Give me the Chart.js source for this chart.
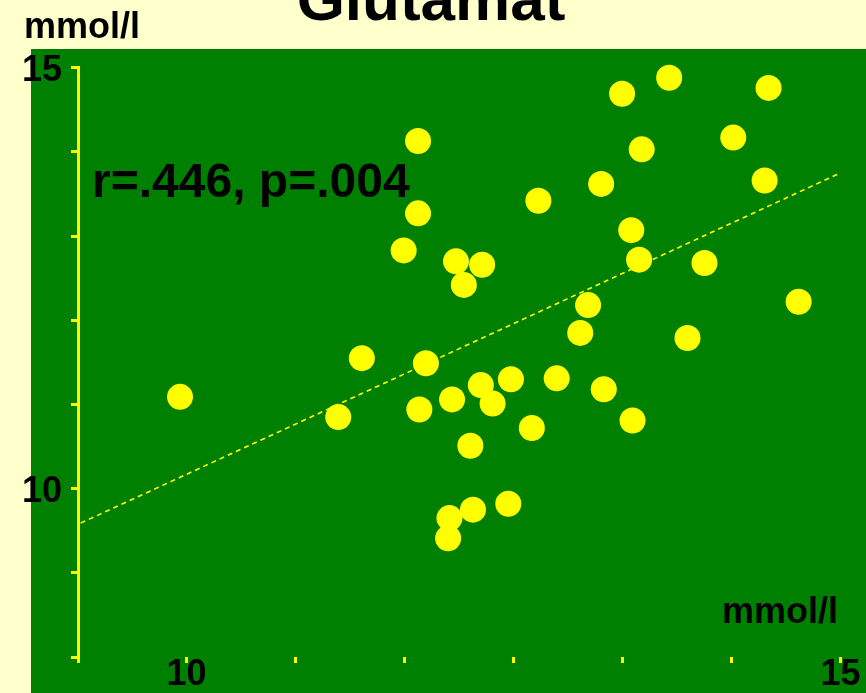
<!DOCTYPE html>
<html>
<head>
<meta charset="utf-8">
<title>Glutamat</title>
<script src="https://cdn.jsdelivr.net/npm/chart.js@4/dist/chart.umd.min.js"></script>
<style>
    html, body { margin: 0; padding: 0; background: #ffffcc; }
    #wrap { width: 866px; height: 693px; }
</style>
</head>
<body>
<div id="wrap"><canvas id="scatterChart" width="866" height="693"></canvas></div>
<script>
// Measured values (mmol/l)
const xValues = [9.95, 11.16, 11.34, 11.66, 11.77, 11.77, 11.83, 11.78, 12.03, 12.06,
                 12.26, 12.12, 12.25, 12.34, 12.17, 12.01, 12.00, 12.19, 12.46, 12.48,
                 12.64, 12.69, 12.83, 13.01, 13.07, 13.17, 13.19, 13.33, 13.40, 13.48,
                 13.46, 13.41, 13.69, 13.83, 13.96, 14.18, 14.42, 14.45, 14.68];
const yValues = [11.09, 10.85, 11.55, 12.83, 14.13, 13.27, 11.49, 10.94, 11.06, 12.70,
                 12.66, 12.42, 11.23, 11.01, 10.51, 9.65, 9.41, 9.75, 9.82, 11.30,
                 10.72, 13.42, 11.31, 11.85, 12.18, 13.62, 11.18, 14.69, 13.07, 14.03,
                 12.72, 10.81, 14.88, 11.79, 12.68, 14.17, 13.66, 14.76, 12.22];

// Regression line end points
const fitX = [9.19, 15.0];
const fitY = [9.59, 13.75];

// Axes
const xTicks = [9.17, 10, 10.83, 11.67, 12.5, 13.33, 14.17, 15];
const xLabels = { 10: '10', 15: '15' };
const yMin = 8, yMax = 15;
const yLabels = { 10: '10', 15: '15' };

const titleText = 'Glutamat';
const unitText = 'mmol/l';
const statsText = 'r=.446, p=.004';

const FONT = "'Liberation Sans', Arial, sans-serif";
const YELLOW = '#ffff00';

const points = xValues.map((x, i) => ({ x: x, y: yValues[i] }));
const fitLine = fitX.map((x, i) => ({ x: x, y: fitY[i] }));

// Page background, green panel and the free text labels
const slidePlugin = {
    id: 'slide',
    beforeDraw(chart) {
        const c = chart.ctx;
        c.save();
        c.fillStyle = '#ffffcc';
        c.fillRect(0, 0, chart.width, chart.height);
        c.fillStyle = '#008000';
        c.fillRect(31, 49, chart.width - 31, chart.height - 49);
        c.restore();
    },
    afterDraw(chart) {
        const c = chart.ctx;
        const area = chart.chartArea;
        c.save();
        c.fillStyle = '#000000';
        c.textBaseline = 'alphabetic';

        c.font = 'bold 62px ' + FONT;
        c.textAlign = 'center';
        c.fillText(titleText, 431, 20);

        c.font = 'bold 36px ' + FONT;
        c.textAlign = 'left';
        c.fillText(unitText, 24, 38);
        c.textAlign = 'right';
        c.fillText(unitText, 838, 623);

        c.font = 'bold 48px ' + FONT;
        c.textAlign = 'left';
        c.fillText(statsText, area.left + 14, 197);
        c.restore();
    }
};

const ctx = document.getElementById('scatterChart').getContext('2d');

new Chart(ctx, {
    type: 'scatter',
    data: {
        datasets: [
            {
                label: 'Glutamat',
                data: points,
                backgroundColor: YELLOW,
                borderWidth: 0,
                pointRadius: 13,
                pointHoverRadius: 13,
                clip: false
            },
            {
                label: 'Regression',
                data: fitLine,
                showLine: true,
                borderColor: YELLOW,
                borderWidth: 1.6,
                borderDash: [5, 4],
                pointRadius: 0,
                fill: false
            }
        ]
    },
    options: {
        responsive: false,
        animation: false,
        events: [],
        layout: {
            padding: { left: 0, right: 25.5, top: 67.7, bottom: 0 }
        },
        plugins: {
            legend: { display: false },
            tooltip: { enabled: false },
            title: { display: false }
        },
        scales: {
            x: {
                type: 'linear',
                min: xTicks[0],
                max: xTicks[xTicks.length - 1],
                afterBuildTicks: scale => {
                    scale.ticks = xTicks.map(v => ({ value: v }));
                },
                afterFit: scale => { scale.height = 36; },
                border: { display: false },
                grid: {
                    drawOnChartArea: false,
                    drawTicks: true,
                    tickLength: 6,
                    tickWidth: 3,
                    tickColor: YELLOW,
                    color: YELLOW
                },
                ticks: {
                    autoSkip: false,
                    maxRotation: 0,
                    padding: -10,
                    color: '#000000',
                    font: { family: FONT, size: 36, weight: 'bold' },
                    callback: value => xLabels[Math.round(value * 100) / 100] || ''
                }
            },
            y: {
                type: 'linear',
                min: yMin,
                max: yMax,
                afterFit: scale => { scale.width = 78; },
                border: { display: true, color: YELLOW, width: 3 },
                grid: {
                    drawOnChartArea: false,
                    drawTicks: true,
                    tickLength: 7,
                    tickWidth: 3,
                    tickColor: YELLOW,
                    color: YELLOW
                },
                ticks: {
                    stepSize: 1,
                    autoSkip: false,
                    padding: 9,
                    labelOffset: 3,
                    color: '#000000',
                    font: { family: FONT, size: 36, weight: 'bold' },
                    callback: value => yLabels[value] || ''
                }
            }
        }
    },
    plugins: [slidePlugin]
});
</script>
</body>
</html>
